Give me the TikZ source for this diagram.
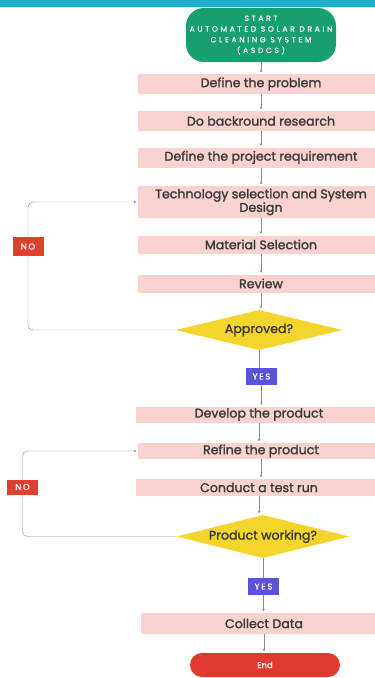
\documentclass[tikz,border=0pt]{standalone}
\usepackage{fontspec}
\setmainfont{Poppins}
\newfontfamily\stepfont[FakeBold=1.5]{Poppins}
\newfontfamily\capfont[LetterSpace=36,FakeBold=1.2]{Poppins}
\newfontfamily\tagfont[LetterSpace=20,FakeBold=1.2]{Poppins}
\usetikzlibrary{shapes.geometric,arrows.meta}

\definecolor{barcyan}{HTML}{1EAECF}
\definecolor{startgreen}{HTML}{17A06E}
\definecolor{boxpink}{HTML}{FAD3D1}
\definecolor{askyellow}{HTML}{F3D52C}
\definecolor{yesblue}{HTML}{5A52D8}
\definecolor{nored}{HTML}{E2402E}
\definecolor{endred}{HTML}{E0392F}
\definecolor{textgray}{HTML}{3A3A3A}
\definecolor{linegray}{HTML}{8C8C8C}

\tikzset{
  stepbox/.style={fill=boxpink, minimum width=246pt, minimum height=20pt,
    inner sep=0pt, text=textgray, align=center,
    font=\stepfont\fontsize{12.6}{13.5}\selectfont},
  decision/.style={diamond, fill=askyellow, inner sep=0pt, text=textgray,
    aspect=4.2, font=\stepfont\fontsize{12.6}{13.5}\selectfont},
  tag/.style={inner sep=0pt, minimum width=31pt, minimum height=17pt,
    text=white, font=\tagfont\fontsize{8.5}{9}\selectfont},
  flow/.style={draw=linegray, thin, shorten >=1.5pt,
    -{Stealth[length=2.5pt,width=2.5pt]}},
  plain/.style={draw=linegray, thin}
}

\begin{document}
\begin{tikzpicture}[x=1pt,y=-1pt]
  \useasboundingbox (0,0) rectangle (375,678);
  \clip (0,0) rectangle (375,678);

  % Top bar
  \fill[barcyan] (0,0) rectangle (375,7);

  % Start and end
  \node[fill=startgreen, rounded corners=18pt, minimum width=150pt,
    minimum height=54pt, inner sep=0pt, text=white, align=center,
    font=\capfont\fontsize{7.5}{10.7}\selectfont] (start) at (261,35)
    {START\\AUTOMATED SOLAR DRAIN\\CLEANING SYSTEM\\(ASDCS)};

  % Steps of the first stage
  \node[stepbox] (problem) at (261,84) {Define the problem};
  \node[stepbox] (research) at (261,121) {Do backround research};
  \node[stepbox] (require) at (261,157.5) {Define the project requirement};
  \node[stepbox, minimum height=32pt] (tech) at (261,202)
    {Technology selection and System\\Design};
  \node[stepbox, minimum height=18pt] (material) at (261,244.5) {Material Selection};
  \node[stepbox, minimum height=18pt] (review) at (261,283.5) {Review};
  \node[decision, minimum width=167pt, minimum height=40pt] (approved) at (259,330)
    {Approved?};
  \node[tag, fill=yesblue] (yes1) at (261.5,376.5) {YES};
  \node[tag, fill=nored, minimum height=19pt] (no1) at (28,246.5) {NO};

  % Steps of the second stage
  \node[stepbox, minimum height=16pt] (develop) at (259,414.5) {Develop the product};
  \node[stepbox, minimum height=16pt] (refine) at (261,451) {Refine the product};
  \node[stepbox, minimum height=17pt] (test) at (259,487.5) {Conduct a test run};
  \node[decision, minimum width=173pt, minimum height=43pt] (working) at (263,536.5)
    {Product working?};
  \node[tag, fill=yesblue] (yes2) at (263.5,586.5) {YES};
  \node[tag, fill=nored, minimum height=15pt] (no2) at (22.5,487) {NO};
  \node[stepbox, minimum height=21pt] (collect) at (264,623.5) {Collect Data};
  \node[fill=endred, rounded corners=12pt, minimum width=150pt,
    minimum height=24pt, inner sep=0pt, text=white,
    font=\stepfont\fontsize{8.5}{9}\selectfont] (end) at (265,665) {End};

  % Main flow
  \foreach \a/\b in {start/problem, problem/research, research/require,
      require/tech, tech/material, material/review, review/approved,
      yes1/develop, develop/refine, refine/test, test/working,
      yes2/collect, collect/end}
    \draw[flow] (\a) -- (\a |- \b.north);
  \draw[plain] (approved) -- (approved |- yes1.north);
  \draw[plain] (working) -- (working |- yes2.north);

  % Loops back
  \draw[flow, rounded corners=5pt] (approved.west) -| (no1) |- (tech.west);
  \draw[flow, rounded corners=5pt] (working.west) -| (no2) |- (refine.west);
  \node[tag, fill=nored, minimum height=19pt] at (no1) {NO};
  \node[tag, fill=nored, minimum height=15pt] at (no2) {NO};
\end{tikzpicture}
\end{document}
